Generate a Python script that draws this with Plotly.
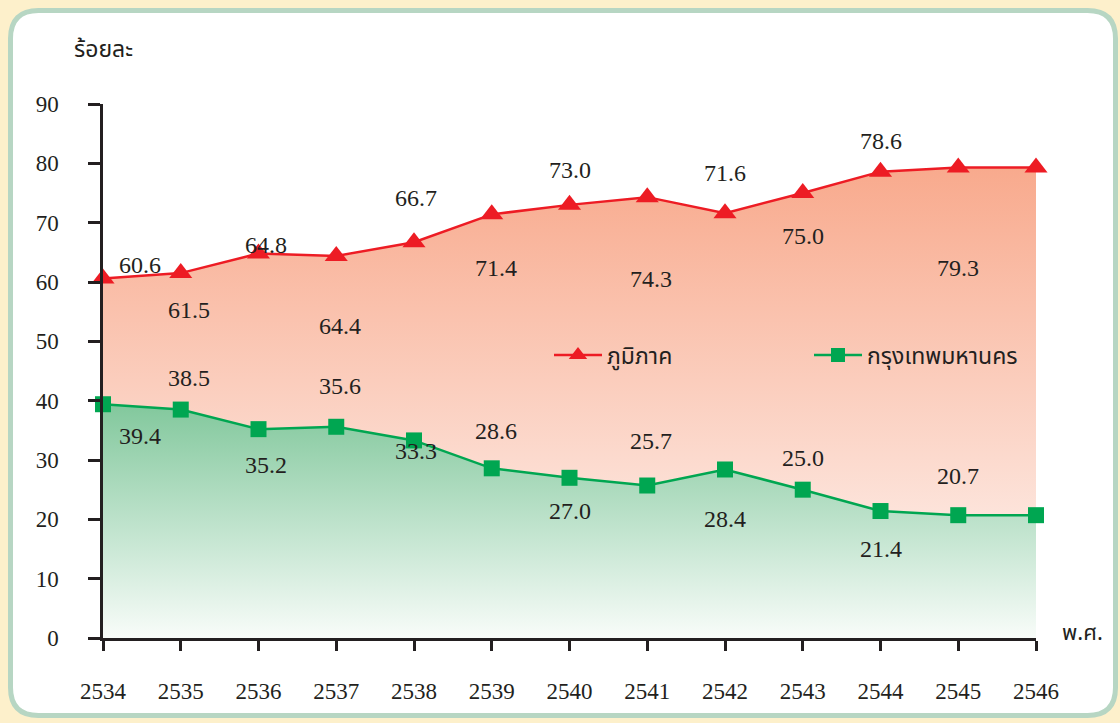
import plotly.graph_objects as go

# data
years = [2534, 2535, 2536, 2537, 2538, 2539, 2540, 2541, 2542, 2543, 2544, 2545, 2546]
region = [60.6, 61.5, 64.8, 64.4, 66.7, 71.4, 73.0, 74.3, 71.6, 75.0, 78.6, 79.3, 79.3]
bangkok = [39.4, 38.5, 35.2, 35.6, 33.3, 28.6, 27.0, 25.7, 28.4, 25.0, 21.4, 20.7, 20.7]
y_ticks = [0, 10, 20, 30, 40, 50, 60, 70, 80, 90]

# where the value labels sit (data units)
region_label_y = [62.9, 55.3, 66.2, 52.6, 74.2, 62.4, 78.9, 60.5, 78.4, 67.8, 83.8, 62.4, 83.6]
bangkok_label_y = [34.0, 43.8, 29.2, 42.5, 31.5, 34.9, 21.4, 33.2, 20.1, 30.3, 15.0, 27.3, 15.7]
label_dx = [0.48, 0.1, 0.1, 0.05, 0.03, 0.05, 0.0, 0.05, 0.0, 0.0, 0.0, 0.0, 0.08]

RED = '#ed1c24'
GREEN = '#00a651'
INK = '#231f20'
SERIF = 'Liberation Serif, Times New Roman, serif'
THAI = 'Noto Sans Thai, Noto Sans, Loma, Garuda, sans-serif'

W, H = 1120, 723
L, R, T, B = 103, 84, 104, 85
PW, PH = W - L - R, H - T - B


def px_to_paper(x, y):
    return (x - L) / PW, (H - B - y) / PH


def rounded_rect(x0, y0, x1, y1, r):
    def p(x, y):
        a, b = px_to_paper(x, y)
        return f"{a:.5f},{b:.5f}"
    return (f"M {p(x0 + r, y0)} L {p(x1 - r, y0)} Q {p(x1, y0)} {p(x1, y0 + r)} "
            f"L {p(x1, y1 - r)} Q {p(x1, y1)} {p(x1 - r, y1)} "
            f"L {p(x0 + r, y1)} Q {p(x0, y1)} {p(x0, y1 - r)} "
            f"L {p(x0, y0 + r)} Q {p(x0, y0)} {p(x0 + r, y0)} Z")


fig = go.Figure()

# filled areas (no legend, the legend gets its own line+marker entries)
fig.add_trace(go.Scatter(
    x=years, y=bangkok, name='กรุงเทพมหานคร',
    mode='lines+markers', fill='tozeroy',
    fillgradient=dict(type='vertical', start=0, stop=40,
                      colorscale=[[0, '#f8fcf9'], [1, '#80c79b']]),
    line=dict(color=GREEN, width=2.5),
    marker=dict(symbol='square', size=16, color=GREEN),
    cliponaxis=False, showlegend=False,
))

fig.add_trace(go.Scatter(
    x=years, y=region, name='ภูมิภาค',
    mode='lines+markers', fill='tonexty',
    fillgradient=dict(type='vertical', start=18, stop=80,
                      colorscale=[[0, '#fde6de'], [1, '#f8a98c']]),
    line=dict(color=RED, width=2.5),
    marker=dict(symbol='triangle-up', size=20, color=RED),
    cliponaxis=False, showlegend=False,
))

for name, color, symbol, size in [('ภูมิภาค', RED, 'triangle-up', 18),
                                  ('กรุงเทพมหานคร', GREEN, 'square', 14)]:
    fig.add_trace(go.Scatter(
        x=[None], y=[None], name=name, mode='lines+markers',
        line=dict(color=color, width=2.5),
        marker=dict(symbol=symbol, size=size, color=color),
    ))

annotations = []
for yr, v, ly, dx in zip(years, region, region_label_y, label_dx):
    annotations.append(dict(x=yr + dx, y=ly, text=f"{v:.1f}", showarrow=False,
                            font=dict(family=SERIF, size=24, color=INK)))
for yr, v, ly, dx in zip(years, bangkok, bangkok_label_y, label_dx):
    annotations.append(dict(x=yr + dx, y=ly, text=f"{v:.1f}", showarrow=False,
                            font=dict(family=SERIF, size=24, color=INK)))

ax_x, ax_y = px_to_paper(103, 50)
annotations.append(dict(x=ax_x, y=ax_y, xref='paper', yref='paper', text='ร้อยละ',
                        xanchor='center', yanchor='middle', showarrow=False,
                        font=dict(family=THAI, size=23, color=INK)))
ax_x, ax_y = px_to_paper(1082, 633)
annotations.append(dict(x=ax_x, y=ax_y, xref='paper', yref='paper', text='พ.ศ.',
                        xanchor='center', yanchor='middle', showarrow=False,
                        font=dict(family=THAI, size=22, color=INK)))

axis_common = dict(showgrid=False, zeroline=False, tickcolor=INK, tickwidth=2.5)

fig.update_layout(
    width=W, height=H,
    margin=dict(l=L, r=R, t=T, b=B, autoexpand=False),
    paper_bgcolor='#fdf0cb',
    plot_bgcolor='rgba(0,0,0,0)',
    xaxis=dict(range=[years[0], years[-1]], tickvals=years, ticks='outside', ticklen=10,
               showline=True, linecolor=INK, linewidth=2.5, ticklabelstandoff=21,
               tickfont=dict(family=SERIF, size=23, color=INK), **axis_common),
    xaxis2=dict(range=[years[0], years[-1]], tickvals=years, ticks='inside', ticklen=13,
                overlaying='x', showticklabels=False, showline=False, **axis_common),
    yaxis=dict(range=[0, 90], tickvals=y_ticks, ticks='outside', ticklen=12,
               showline=True, linecolor=INK, linewidth=2.5, ticklabelstandoff=25,
               tickfont=dict(family=SERIF, size=23, color=INK), **axis_common),
    yaxis2=dict(range=[0, 90], tickvals=y_ticks, ticks='inside', ticklen=11,
                overlaying='y', showticklabels=False, showline=False, **axis_common),
    legend=dict(orientation='h', x=(549 - L) / PW, y=(H - B - 355) / PH,
                xanchor='left', yanchor='middle', bgcolor='rgba(0,0,0,0)',
                traceorder='normal', itemwidth=48,
                entrywidth=197, entrywidthmode='pixels',
                font=dict(family=THAI, size=23, color=INK)),
    shapes=[dict(type='path', xref='paper', yref='paper', layer='below',
                 path=rounded_rect(10.5, 10.5, 1115.5, 715.5, 28),
                 fillcolor='white', line=dict(color='#b7d6c3', width=5))],
    annotations=annotations,
)

fig.write_html(
    "out.html",
    config={'displayModeBar': False},
    post_script=("document.body.style.margin='0';"
                 "document.body.style.overflow='hidden';"
                 "Plotly.relayout('{plot_id}', {width: 1120, height: 723});"),
)
